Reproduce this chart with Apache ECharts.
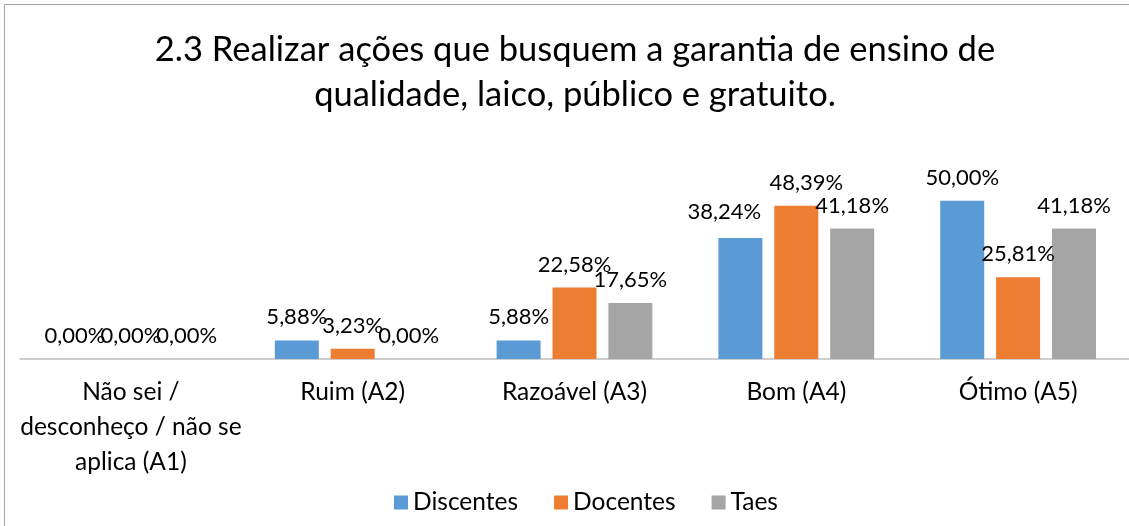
<!DOCTYPE html>
<html>
<head>
<meta charset="utf-8">
<script src="https://cdn.jsdelivr.net/npm/echarts@6/dist/echarts.min.js"></script>
<style>
  html, body { margin: 0; padding: 0; background: #fff; overflow: hidden; }
  #frame {
    position: absolute; left: 4px; top: 4px;
    width: 1140px; height: 540px;
    border: 1px solid #a6a6a6; box-sizing: border-box;
  }
  #chart { position: absolute; left: 0; top: 0; width: 1129px; height: 526px; }
</style>
</head>
<body>
<div id="frame"></div>
<div id="chart"></div>
<script>
// categorias e valores (%)
const categories = [
  'Não sei /\ndesconheço / não se\naplica (A1)',
  'Ruim (A2)',
  'Razoável (A3)',
  'Bom (A4)',
  'Ótimo (A5)'
]
const discentes = [0, 5.88, 5.88, 38.24, 50.00]
const docentes = [0, 3.23, 22.58, 48.39, 25.81]
const taes = [0, 0, 17.65, 41.18, 41.18]

const font = 'Lato, "Open Sans", sans-serif'

const labelStyle = {
  show: true,
  position: 'top',
  distance: 12,
  color: '#000',
  fontFamily: font,
  fontSize: 22,
  formatter: p => p.value.toFixed(2).replace('.', ',') + '%'
}

// no Excel alguns rótulos do grupo "Bom" ficam deslocados para não sobrepor
const labelShift = { Discentes: { 3: [-16, -3] }, Docentes: { 3: [10, 0] } }

const makeSeries = (name, data, color) => ({
  name,
  type: 'bar',
  data: data.map((v, i) =>
    labelShift[name] && labelShift[name][i]
      ? { value: v, label: { offset: labelShift[name][i] } }
      : v),
  barWidth: 44,
  barGap: '27%',
  itemStyle: { color },
  label: labelStyle
})

const chart = echarts.init(document.getElementById('chart'))
chart.setOption({
  animation: false,
  title: {
    text: '2.3 Realizar ações que busquem a garantia de ensino de\nqualidade, laico, público e gratuito.',
    left: 570,
    top: 22,
    textAlign: 'center',
    textStyle: {
      fontFamily: font,
      fontSize: 34.5,
      fontWeight: 'normal',
      color: '#000',
      lineHeight: 45
    }
  },
  legend: {
    bottom: 6,
    left: 389,
    itemWidth: 14,
    itemHeight: 14,
    itemGap: 36,
    icon: 'rect',
    textStyle: { fontFamily: font, fontSize: 24.5, color: '#000' },
    data: ['Discentes', 'Docentes', 'Taes']
  },
  grid: {
    left: 20,
    width: 1114,
    top: 169,
    bottom: 167
  },
  xAxis: {
    type: 'category',
    data: categories,
    axisLine: { lineStyle: { color: '#bfbfbf', width: 1.5 } },
    axisTick: { show: false },
    axisLabel: {
      color: '#000',
      fontFamily: font,
      fontSize: 24.5,
      lineHeight: 35,
      margin: 16,
      interval: 0
    }
  },
  yAxis: {
    type: 'value',
    min: 0,
    max: 60,
    show: false,
    splitLine: { show: false }
  },
  series: [
    makeSeries('Discentes', discentes, '#5b9bd5'),
    makeSeries('Docentes', docentes, '#ed7d31'),
    makeSeries('Taes', taes, '#a5a5a5')
  ]
})
</script>
</body>
</html>
